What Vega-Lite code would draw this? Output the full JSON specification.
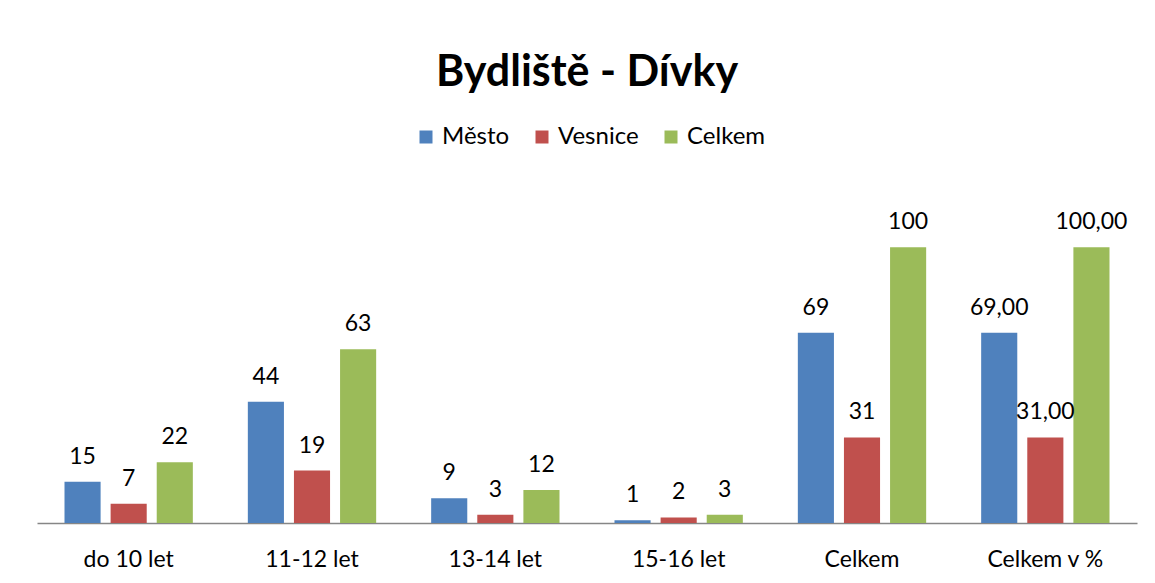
{
  "$schema": "https://vega.github.io/schema/vega-lite/v6.json",
  "width": 1100,
  "height": 331,
  "autosize": {"type": "none"},
  "padding": {"left": 37, "top": 192, "right": 18, "bottom": 60},
  "background": "white",
  "title": {
    "text": "Bydliště - Dívky",
    "font": "Lato",
    "fontSize": 43,
    "fontWeight": "bold",
    "color": "#000000",
    "anchor": "middle",
    "baseline": "alphabetic",
    "offset": -4
  },
  "config": {
    "view": {"stroke": null},
    "font": "Lato"
  },
  "data": {
    "values": [
      {"skupina": "do 10 let", "serie": "Město", "hodnota": 15, "popis": "15"},
      {"skupina": "do 10 let", "serie": "Vesnice", "hodnota": 7, "popis": "7"},
      {"skupina": "do 10 let", "serie": "Celkem", "hodnota": 22, "popis": "22"},
      {"skupina": "11-12 let", "serie": "Město", "hodnota": 44, "popis": "44"},
      {"skupina": "11-12 let", "serie": "Vesnice", "hodnota": 19, "popis": "19"},
      {"skupina": "11-12 let", "serie": "Celkem", "hodnota": 63, "popis": "63"},
      {"skupina": "13-14 let", "serie": "Město", "hodnota": 9, "popis": "9"},
      {"skupina": "13-14 let", "serie": "Vesnice", "hodnota": 3, "popis": "3"},
      {"skupina": "13-14 let", "serie": "Celkem", "hodnota": 12, "popis": "12"},
      {"skupina": "15-16 let", "serie": "Město", "hodnota": 1, "popis": "1"},
      {"skupina": "15-16 let", "serie": "Vesnice", "hodnota": 2, "popis": "2"},
      {"skupina": "15-16 let", "serie": "Celkem", "hodnota": 3, "popis": "3"},
      {"skupina": "Celkem", "serie": "Město", "hodnota": 69, "popis": "69"},
      {"skupina": "Celkem", "serie": "Vesnice", "hodnota": 31, "popis": "31"},
      {"skupina": "Celkem", "serie": "Celkem", "hodnota": 100, "popis": "100"},
      {"skupina": "Celkem v %", "serie": "Město", "hodnota": 69, "popis": "69,00"},
      {"skupina": "Celkem v %", "serie": "Vesnice", "hodnota": 31, "popis": "31,00"},
      {"skupina": "Celkem v %", "serie": "Celkem", "hodnota": 100, "popis": "100,00"}
    ]
  },
  "encoding": {
    "x": {
      "field": "skupina",
      "type": "nominal",
      "sort": ["do 10 let", "11-12 let", "13-14 let", "15-16 let", "Celkem", "Celkem v %"],
      "scale": {"paddingInner": 0.3, "paddingOuter": 0.15},
      "axis": {
        "title": null,
        "labelAngle": 0,
        "labelFont": "Lato",
        "labelFontSize": 23,
        "labelColor": "#000000",
        "labelPadding": 25,
        "ticks": false,
        "domainColor": "#868686",
        "domainWidth": 1.5,
        "grid": false
      }
    },
    "xOffset": {
      "field": "serie",
      "type": "nominal",
      "sort": ["Město", "Vesnice", "Celkem"],
      "scale": {"paddingInner": 0.217, "paddingOuter": 0}
    },
    "y": {
      "field": "hodnota",
      "type": "quantitative",
      "scale": {"domain": [0, 120], "nice": false},
      "axis": null
    }
  },
  "layer": [
    {
      "mark": {"type": "bar"},
      "encoding": {
        "color": {
          "field": "serie",
          "type": "nominal",
          "sort": ["Město", "Vesnice", "Celkem"],
          "scale": {"domain": ["Město", "Vesnice", "Celkem"], "range": ["#4F81BD", "#C0504D", "#9BBB59"]},
          "legend": {
            "title": null,
            "orient": "none",
            "direction": "horizontal",
            "legendX": 377,
            "legendY": -67,
            "symbolType": "square",
            "symbolSize": 169,
            "symbolStrokeWidth": 0,
            "labelFont": "Lato",
            "labelFontSize": 24,
            "labelColor": "#000000",
            "labelOffset": 4,
            "columnPadding": 20
          }
        }
      }
    },
    {
      "mark": {"type": "text", "baseline": "alphabetic", "dy": -18, "font": "Lato", "fontSize": 23, "color": "#000000"},
      "encoding": {
        "text": {"field": "popis", "type": "nominal"}
      }
    }
  ]
}
